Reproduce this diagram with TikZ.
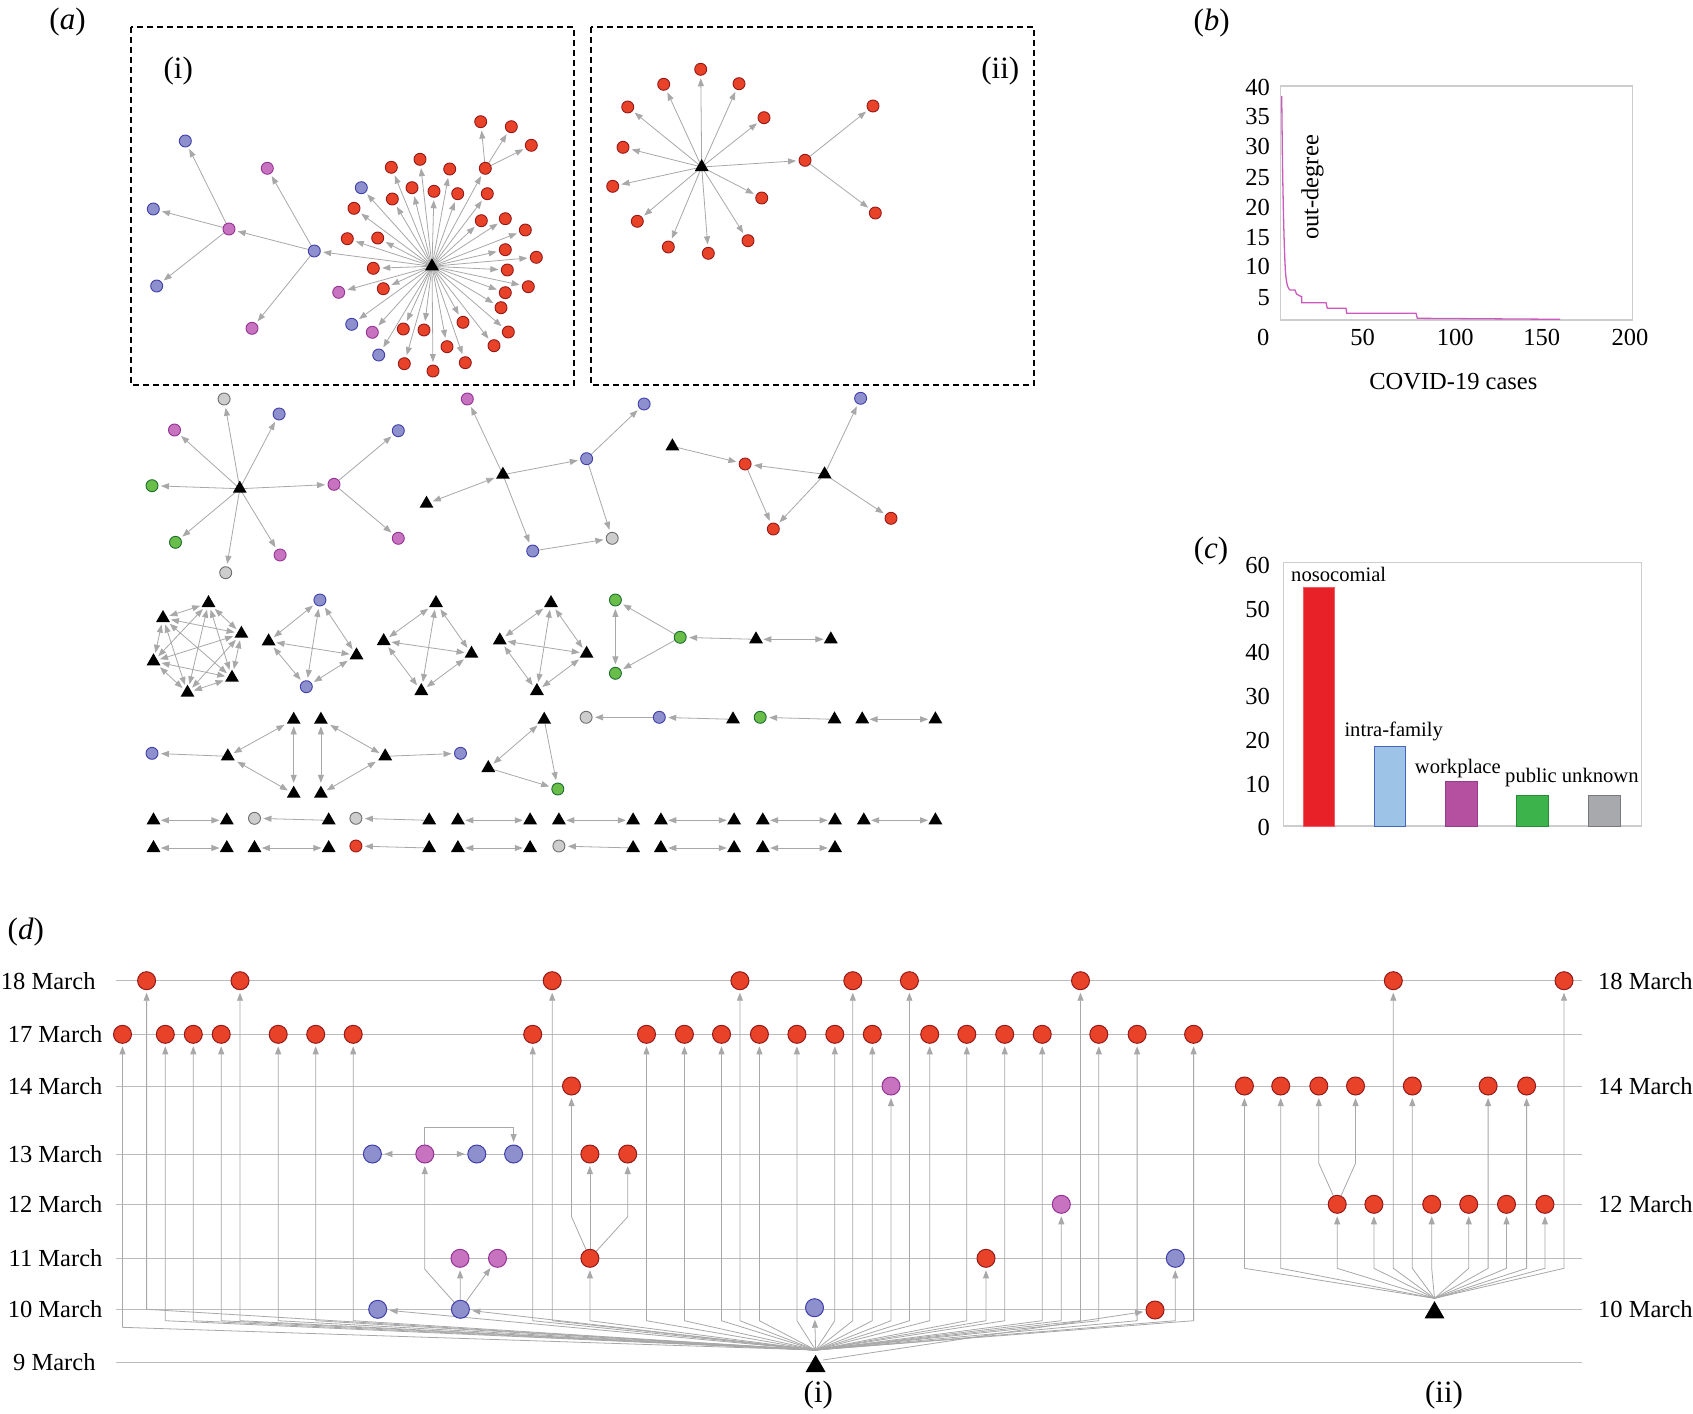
\documentclass[tikz,border=0pt]{standalone}
\usepackage{fontspec}
\setmainfont{Liberation Serif}
\usetikzlibrary{shapes.geometric,arrows.meta}
\pgfdeclarelayer{bgl}
\pgfdeclarelayer{edl}
\pgfsetlayers{bgl,edl,main}
\definecolor{cred}{RGB}{232,66,40}
\definecolor{dred}{RGB}{150,25,25}
\definecolor{cblu}{RGB}{142,144,206}
\definecolor{dblu}{RGB}{62,62,172}
\definecolor{cmag}{RGB}{200,115,192}
\definecolor{dmag}{RGB}{150,50,150}
\definecolor{cgrn}{RGB}{104,190,72}
\definecolor{dgrn}{RGB}{30,110,50}
\definecolor{cgry}{RGB}{205,205,205}
\definecolor{dgry}{RGB}{110,110,110}
\definecolor{edgeC}{RGB}{168,168,168}
\definecolor{gridC}{RGB}{188,188,188}
\definecolor{frmC}{RGB}{205,205,205}
\definecolor{curveC}{RGB}{204,90,190}
\newcommand\fsA{\fontsize{24.5pt}{28pt}\selectfont}
\newcommand\fsC{\fontsize{20.6pt}{24pt}\selectfont}
\newcommand\fsP{\fontsize{31pt}{36pt}\selectfont}
\tikzset{
 nd/.style={circle,inner sep=0pt,minimum size=12pt,line width=0.9pt},
 nR/.style={nd,fill=cred,draw=dred},
 nB/.style={nd,fill=cblu,draw=dblu},
 nM/.style={nd,fill=cmag,draw=dmag},
 nG/.style={nd,fill=cgrn,draw=dgrn},
 nY/.style={nd,fill=cgry,draw=dgry},
 dn/.style={minimum size=18pt,line width=1pt},
 tri/.style={regular polygon,regular polygon sides=3,fill=black,inner sep=0pt,minimum size=16pt,yshift=-2pt},
 btri/.style={regular polygon,regular polygon sides=3,fill=black,inner sep=0pt,minimum size=23pt,yshift=-2.9pt},
 arr/.style={draw=edgeC,line width=0.8pt,-{Triangle[length=8pt,width=6pt]},shorten >=2.5pt},
 barr/.style={draw=edgeC,line width=0.8pt,{Triangle[length=8pt,width=6pt]}-{Triangle[length=8pt,width=6pt]},shorten >=2.5pt,shorten <=2.5pt},
 gline/.style={draw=gridC,line width=1pt},
 frm/.style={draw=frmC,line width=1.1pt},
 dbox/.style={draw=black,line width=1.4pt,dash pattern=on 6pt off 4pt},
 plab/.style={inner sep=0pt,font=\fsP},
 txt/.style={inner sep=0pt,font=\fsA},
 btxt/.style={inner sep=0pt,font=\fsC},
}
\begin{document}
\begin{tikzpicture}[x=1pt,y=-1pt]
\begin{pgfonlayer}{bgl}\fill[white] (0,0) rectangle (1693,1413);\end{pgfonlayer}
\path[use as bounding box] (0,0) rectangle (1693,1413);

% panel labels
\node[plab] (La) at (67.5,21.7) {(\textit{a})};
\node[plab] (Lb) at (1211.7,23.3) {(\textit{b})};
\node[plab] (Lc) at (1211,551) {(\textit{c})};
\node[plab] (Ld) at (25.8,931.7) {(\textit{d})};

% ---------------- (a)(i)
\draw[dbox] (131,27) rectangle (574,385);
\node[plab] (Li) at (178.3,70.8) {(i)};
\node[tri] (a1h) at (432,264.3) {};
\node[nB] (a1b0) at (314.3,251) {};
\node[nM] (a1m0) at (229,229) {};
\node[nM] (a1m1) at (267.3,168.3) {};
\node[nM] (a1m2) at (252,328.3) {};
\node[nB] (a1b1) at (185.3,141) {};
\node[nB] (a1b2) at (153.3,209) {};
\node[nB] (a1b3) at (156.7,286) {};
\foreach \kk/\x/\y [count=\i] in {blu/361.3/187.7, red/354/208.3, red/391.3/167.3, red/420/159.3, red/449.7/169, red/485.3/168.3, red/412/187.7, red/434/191.3, red/457.7/193.7, red/487.3/193.7, red/392.3/199, red/481.3/220.7, red/505.3/218.7, red/525.3/230, red/347.3/238.7, red/377.7/238, red/505.3/249.7, red/536.3/257.3, red/373.3/268.3, red/507.3/270, red/528.3/286.7, red/383.3/288.7, mag/338.7/292.3, red/505.3/292.7, red/501/307.7, blu/351.7/324.3, mag/372.3/332.3, red/403.3/329, red/424/330, red/463/322.3, red/508.3/332, red/447/346.7, red/494/345.7, blu/378.7/355, red/404.3/363.7, red/433/371, red/465.3/362.7}{
 \node[nd,fill=c\kk,draw=d\kk] (a1c\i) at (\x,\y) {};
 \begin{pgfonlayer}{edl}\draw[arr] (a1h.center) -- (a1c\i);\end{pgfonlayer}
}
\node[nR] (a1g1) at (480.7,121.7) {};
\node[nR] (a1g2) at (511.3,126.7) {};
\node[nR] (a1g3) at (531.3,145.3) {};
\begin{pgfonlayer}{edl}
\draw[arr] (a1h.center) -- (a1b0);
\draw[arr] (a1b0) -- (a1m0);
\draw[arr] (a1b0) -- (a1m1);
\draw[arr] (a1b0) -- (a1m2);
\draw[arr] (a1m0) -- (a1b1);
\draw[arr] (a1m0) -- (a1b2);
\draw[arr] (a1m0) -- (a1b3);
\foreach \nn in {a1g1,a1g2,a1g3} \draw[arr] (a1c6) -- (\nn);
\end{pgfonlayer}

% ---------------- (a)(ii)
\draw[dbox] (591,27) rectangle (1034,385);
\node[plab] (Lii) at (1000.3,70.8) {(ii)};
\node[tri] (a2h) at (701.7,165) {};
\foreach \x/\y [count=\i] in {700.7/69.3, 663.7/84.3, 739/83.7, 627.7/107, 764/117.7, 623/147.3, 612.7/186.3, 761.7/198, 637.3/221.3, 668.3/247, 708.3/253.3, 748/240.7, 805/160.3}{
 \node[nR] (a2c\i) at (\x,\y) {};
 \begin{pgfonlayer}{edl}\draw[arr] (a2h.center) -- (a2c\i);\end{pgfonlayer}
}
\node[nR] (a2g1) at (873,106) {};
\node[nR] (a2g2) at (875.3,213) {};
\begin{pgfonlayer}{edl}
\draw[arr] (a2c13) -- (a2g1);
\draw[arr] (a2c13) -- (a2g2);
\end{pgfonlayer}

% ---------------- middle networks
\node[tri] (mAh) at (239.8,486.7) {};
\node[nY] (mA1) at (224.1,399) {};
\node[nB] (mA2) at (279.1,414) {};
\node[nM] (mA3) at (174.5,430) {};
\node[nG] (mA4) at (152,485.7) {};
\node[nM] (mA5) at (334,484.3) {};
\node[nG] (mA6) at (175.5,542.3) {};
\node[nY] (mA7) at (225.7,572.7) {};
\node[nM] (mA8) at (280.1,555) {};
\node[nB] (mA9) at (398.3,430.7) {};
\node[nM] (mA10) at (398.3,538.3) {};
\node[tri] (mBh) at (502.9,472.7) {};
\node[nM] (mB1) at (467.3,399) {};
\node[nB] (mB2) at (586.6,458.7) {};
\node[nB] (mB3) at (644.1,404) {};
\node[tri] (mB4) at (426.5,501.7) {};
\node[nB] (mB5) at (532.7,551) {};
\node[nY] (mB6) at (612.2,538.3) {};
\node[tri] (mC1) at (672.4,444.3) {};
\node[nR] (mC2) at (745.1,464) {};
\node[tri] (mCh) at (824.6,472.3) {};
\node[nB] (mC3) at (860.6,398.3) {};
\node[nR] (mC4) at (773.3,529) {};
\node[nR] (mC5) at (891,518.3) {};
\begin{pgfonlayer}{edl}
\foreach \nn in {1,...,8} \draw[arr] (mAh.center) -- (mA\nn);
\draw[arr] (mA5) -- (mA9);
\draw[arr] (mA5) -- (mA10);
\draw[arr] (mBh.center) -- (mB1);
\draw[arr] (mBh.center) -- (mB2);
\draw[arr] (mBh.center) -- (mB5);
\draw[barr] (mBh) -- (mB4);
\draw[arr] (mB2) -- (mB3);
\draw[arr] (mB2) -- (mB6);
\draw[arr] (mB5) -- (mB6);
\draw[arr] (mC1) -- (mC2);
\draw[arr] (mCh.center) -- (mC2);
\draw[arr] (mCh.center) -- (mC3);
\draw[arr] (mCh.center) -- (mC4);
\draw[arr] (mCh.center) -- (mC5);
\draw[arr] (mC2) -- (mC4);
\end{pgfonlayer}

% K6
\node[tri] (k1) at (208.5,601) {};
\node[tri] (k2) at (163,616) {};
\node[tri] (k3) at (241.4,631.7) {};
\node[tri] (k4) at (153.5,659.3) {};
\node[tri] (k5) at (232,675.7) {};
\node[tri] (k6) at (187.5,690.7) {};
\begin{pgfonlayer}{edl}
\foreach \a/\b in {1/2,1/3,1/4,1/5,1/6,2/3,2/4,2/5,2/6,3/4,3/5,3/6,4/5,4/6,5/6} \draw[barr] (k\a) -- (k\b);
\end{pgfonlayer}
% K4 networks
\node[nB] (e1) at (319.9,600) {};
\node[tri] (e2) at (268.6,639.3) {};
\node[tri] (e3) at (356.5,653.3) {};
\node[nB] (e4) at (306.3,686.7) {};
\node[tri] (f1) at (436,601) {};
\node[tri] (f2) at (383.7,639) {};
\node[tri] (f3) at (471.5,651.7) {};
\node[tri] (f4) at (421.3,689) {};
\node[tri] (g1) at (551,601) {};
\node[tri] (g2) at (499.8,638.3) {};
\node[tri] (g3) at (586.6,651.7) {};
\node[tri] (g4) at (536.9,689) {};
\begin{pgfonlayer}{edl}
\foreach \p in {e,f,g}{
 \foreach \a/\b in {1/2,1/3,1/4,2/3,2/4,3/4} \draw[barr] (\p\a) -- (\p\b);
}
\end{pgfonlayer}
% network H
\node[nG] (h1) at (615.4,600) {};
\node[nG] (h2) at (680.2,637.3) {};
\node[nG] (h3) at (615.4,673.3) {};
\node[tri] (h4) at (756,637.3) {};
\node[tri] (h5) at (830.8,637.3) {};
\begin{pgfonlayer}{edl}
\draw[arr] (h2) -- (h1);
\draw[arr] (h2) -- (h3);
\draw[barr] (h1) -- (h3);
\draw[arr] (h4) -- (h2);
\draw[barr] (h4) -- (h5);
\end{pgfonlayer}
% network I
\node[nB] (i1) at (152,753.3) {};
\node[tri] (i2) at (227.8,754.3) {};
\node[tri] (i3) at (293.7,717.7) {};
\node[tri] (i4) at (293.7,791.7) {};
\node[tri] (i5) at (320.9,717.7) {};
\node[tri] (i6) at (320.9,791.7) {};
\node[tri] (i7) at (385.2,754.3) {};
\node[nB] (i8) at (460.5,753.3) {};
\begin{pgfonlayer}{edl}
\draw[arr] (i2) -- (i1);
\draw[barr] (i2) -- (i3);
\draw[barr] (i2) -- (i4);
\draw[barr] (i3) -- (i4);
\draw[barr] (i5) -- (i6);
\draw[barr] (i5) -- (i7);
\draw[barr] (i6) -- (i7);
\draw[arr] (i7) -- (i8);
\end{pgfonlayer}
% network J
\node[tri] (j1) at (544.2,717.7) {};
\node[tri] (j2) at (488.3,766) {};
\node[nG] (j3) at (557.8,789) {};
\begin{pgfonlayer}{edl}
\draw[barr] (j1) -- (j2);
\draw[arr] (j1) -- (j3);
\draw[arr] (j2) -- (j3);
\end{pgfonlayer}
% chains row 2
\node[nY] (q1) at (586.1,717.3) {};
\node[nB] (q2) at (659.3,717.3) {};
\node[tri] (q3) at (733,717.3) {};
\node[nG] (q4) at (760.2,717.3) {};
\node[tri] (q5) at (834.5,717.3) {};
\node[tri] (q6) at (862.2,717.3) {};
\node[tri] (q7) at (935.4,717.3) {};
\begin{pgfonlayer}{edl}
\draw[arr] (q2) -- (q1);
\draw[arr] (q3) -- (q2);
\draw[arr] (q5) -- (q4);
\draw[barr] (q6) -- (q7);
\end{pgfonlayer}
% pairs rows 3-4
\foreach \xa/\xb/\yy [count=\i] in {153.5/226.8/818.3, 457.9/530.1/818.3, 558.9/633.1/818.3, 660.9/734.1/818.3, 762.8/835/818.3, 863.8/935.4/818.3, 153.5/226.8/846, 254.5/328.7/846, 457.9/530.1/846, 660.9/734.1/846, 762.8/835/846}{
 \node[tri] (pa\i) at (\xa,\yy) {};
 \node[tri] (pb\i) at (\xb,\yy) {};
 \begin{pgfonlayer}{edl}\draw[barr] (pa\i) -- (pb\i);\end{pgfonlayer}
}
\foreach \kk/\xa/\xb/\yy [count=\i] in {gry/254.5/328.7/818.3, gry/355.9/429.2/818.3, red/355.9/429.2/846, gry/558.9/633.1/846}{
 \node[nd,fill=c\kk,draw=d\kk] (sa\i) at (\xa,\yy) {};
 \node[tri] (sb\i) at (\xb,\yy) {};
 \begin{pgfonlayer}{edl}\draw[arr] (sb\i) -- (sa\i);\end{pgfonlayer}
}

% ---------------- (b)
\draw[frm] (1280.7,86) rectangle (1632.3,320);
\foreach \v/\yy [count=\i] in {40/87.3,35/116.7,30/146.7,25/177.3,20/207.7,15/237.3,10/266.7,5/297.7}
 \node[txt,anchor=east] (by\i) at (1270,\yy) {\v};
\foreach \v/\xx [count=\i] in {0/1263.3,50/1362.7,100/1455.3,150/1541.7,200/1630}
 \node[txt] (bx\i) at (\xx,337.3) {\v};
\node[txt] (bxl) at (1453.3,381.7) {COVID-19 cases};
\node[txt,rotate=90] (byl) at (1312.5,187.5) {out-degree};
\draw[curveC,line width=1.3pt] plot[smooth,tension=0.6] coordinates {(1281.7,96) (1282.6,170) (1284,235) (1285.5,272) (1287.5,286) (1290,290)} -- (1295,290) -- (1296.5,294) -- (1300,296) -- (1301.7,296.7) -- (1301.7,302.7) -- (1326,302.7) -- (1327.3,308.3) -- (1346,308.3) -- (1346.7,313.3) -- (1416,313.3) -- (1417.3,318.3) -- (1560,319.3);

% ---------------- (c)
\draw[frm] (1283.7,562.3) rectangle (1641.3,826);
\foreach \v/\yy [count=\i] in {60/565,50/609.3,40/652.7,30/696.7,20/740,10/784,0/827.7}
 \node[txt,anchor=east] (cy\i) at (1270,\yy) {\v};
\draw[fill={rgb,255:red,232;green,32;blue,40},draw={rgb,255:red,240;green,90;blue,100},line width=0.8pt] (1303,826) rectangle (1334.3,587.7);
\draw[fill={rgb,255:red,157;green,195;blue,230},draw={rgb,255:red,70;green,100;blue,190},line width=0.8pt] (1374,826) rectangle (1405.7,746.7);
\draw[fill={rgb,255:red,181;green,80;blue,160},draw={rgb,255:red,150;green,60;blue,140},line width=0.8pt] (1445.3,826) rectangle (1477,781.7);
\draw[fill={rgb,255:red,60;green,180;blue,75},draw={rgb,255:red,40;green,140;blue,55},line width=0.8pt] (1516.7,826) rectangle (1548.7,795.7);
\draw[fill={rgb,255:red,167;green,169;blue,172},draw={rgb,255:red,120;green,120;blue,125},line width=0.8pt] (1588.3,826) rectangle (1620,795.7);
\node[btxt,anchor=base west] (c1) at (1291,581.7) {nosocomial};
\node[btxt,anchor=base west] (c2) at (1344.3,736) {intra-family};
\node[btxt,anchor=base west] (c3) at (1414.7,773.3) {workplace};
\node[btxt,anchor=base west] (c4) at (1505,782.7) {public};
\node[btxt,anchor=base west] (c5) at (1561.7,782.7) {unknown};

% ---------------- (d)
\begin{pgfonlayer}{bgl}
\foreach \yy in {980.7,1034.3,1086,1154,1204.3,1258.3,1309.3,1362.3} \draw[gline] (115.6,\yy) -- (1582,\yy);
\end{pgfonlayer}
\foreach \yy/\lab/\xr [count=\i] in {980.7/18 March/95.7, 1034.3/17 March/102.6, 1086/14 March/102.6, 1154/13 March/102.6, 1204.3/12 March/102.6, 1258.3/11 March/102.6, 1309.3/10 March/102.6, 1362.3/9 March/95.7}
 \node[txt,anchor=east] (dl\i) at (\xr,\yy) {\lab};
\foreach \yy/\lab [count=\i] in {980.7/18 March, 1086/14 March, 1204.3/12 March, 1309.3/10 March}
 \node[txt,anchor=west] (dr\i) at (1597.9,\yy) {\lab};
\node[plab] (dLi) at (818.3,1395) {(i)};
\node[plab] (dLii) at (1444,1395) {(ii)};

\coordinate (hIa) at (815.6,1350);
\node[btri] (hI) at (815.6,1363.4) {};
\coordinate (hIIa) at (1434.5,1298.3);
\node[btri] (hII) at (1434.5,1309.7) {};

\foreach \kk/\x/\y/\bb [count=\i] in {red/122.5/1034.3/1327.3, red/146.6/980.7/1309.3, red/165.3/1034.3/1320.7, red/193.3/1034.3/1320.7, red/221.2/1034.3/1320.7, red/240/980.7/1320.7, red/278.2/1034.3/1320.7, red/315.7/1034.3/1320.7, red/353.2/1034.3/1320.7, red/532.7/1034.3/1320.7, red/552.2/980.7/1320.7, red/589.9/1258.3/1320.7, red/646.5/1034.3/1320.7, red/684.4/1034.3/1320.7, red/721.5/1034.3/1320.7, red/739.9/980.7/1320.7, red/759.4/1034.3/1320.7, red/796.9/1034.3/1320.7, red/834.8/1034.3/1320.7, red/852.8/980.7/1320.7, red/872.3/1034.3/1320.7, mag/891/1086/1320.7, red/909.4/980.7/1320.7, red/929.7/1034.3/1320.7, red/966.8/1034.3/1320.7, red/986/1258.3/1320.7, red/1004.7/1034.3/1320.7, red/1042.2/1034.3/1320.7, mag/1061.3/1204.3/1320.7, red/1080.5/980.7/1320.7, red/1098.8/1034.3/1320.7, red/1137.1/1034.3/1320.7, blu/1175.3/1258.3/1320.7, red/1193.6/1034.3/1320.7}{
 \node[nd,dn,fill=c\kk,draw=d\kk] (di\i) at (\x,\y) {};
 \begin{pgfonlayer}{edl}\draw[arr] (hIa) -- (di\i |- 0,\bb) -- (di\i);\end{pgfonlayer}
}
\node[nB,dn] (dB1) at (377.7,1309.3) {};
\node[nB,dn] (dB2) at (460.4,1309.3) {};
\node[nB,dn] (dB3) at (814.5,1307.7) {};
\node[nR,dn] (dR1) at (1155,1310) {};
\node[nR,dn] (dr14a) at (571.5,1086) {};
\node[nR,dn] (dr13a) at (589.9,1154) {};
\node[nR,dn] (dr13b) at (627.7,1154) {};
\node[nM,dn] (dm11a) at (460,1258.3) {};
\node[nM,dn] (dm11b) at (497.5,1258.3) {};
\node[nM,dn] (dm13) at (424.8,1154) {};
\node[nB,dn] (db13a) at (372.4,1154) {};
\node[nB,dn] (db13b) at (476.8,1154) {};
\node[nB,dn] (db13c) at (513.6,1154) {};
\coordinate (hIr) at (823,1360);
\begin{pgfonlayer}{edl}
\draw[arr] (hIa) -- (dB1);
\draw[arr] (hIa) -- (dB2);
\draw[arr] (hIa) -- (dB3);
\draw[arr] (hIr) -- (dR1);
\draw[arr] (di12) -- (dr14a |- 0,1216.7) -- (dr14a);
\draw[arr] (di12) -- (dr13a);
\draw[arr] (di12) -- (dr13b |- 0,1216.7) -- (dr13b);
\draw[arr] (dB2) -- (dm11a);
\draw[arr] (dB2) -- (dm11b);
\draw[arr] (dB2) -- (dm13 |- 0,1269.3) -- (dm13);
\draw[arr] (dm13) -- (db13a);
\draw[arr] (dm13) -- (db13b);
\draw[arr] (dm13) -- (dm13 |- 0,1127.7) -- (db13c |- 0,1127.7) -- (db13c);
\end{pgfonlayer}

\foreach \x/\y [count=\i] in {1244.4/1086, 1280.7/1086, 1337.2/1204.3, 1373.9/1204.3, 1393.3/980.7, 1412.3/1086, 1431.7/1204.3, 1468.7/1204.3, 1488.1/1086, 1506.5/1204.3, 1526.6/1086, 1544.9/1204.3, 1564/980.7}{
 \node[nR,dn] (dii\i) at (\x,\y) {};
 \begin{pgfonlayer}{edl}\draw[arr] (hIIa) -- (dii\i |- 0,1268.3) -- (dii\i);\end{pgfonlayer}
}
\node[nR,dn] (dr14c) at (1318.8,1086) {};
\node[nR,dn] (dr14d) at (1355.5,1086) {};
\begin{pgfonlayer}{edl}
\draw[arr] (dii3) -- (dr14c |- 0,1163.3) -- (dr14c);
\draw[arr] (dii3) -- (dr14d |- 0,1163.3) -- (dr14d);
\end{pgfonlayer}
\end{tikzpicture}
\end{document}
